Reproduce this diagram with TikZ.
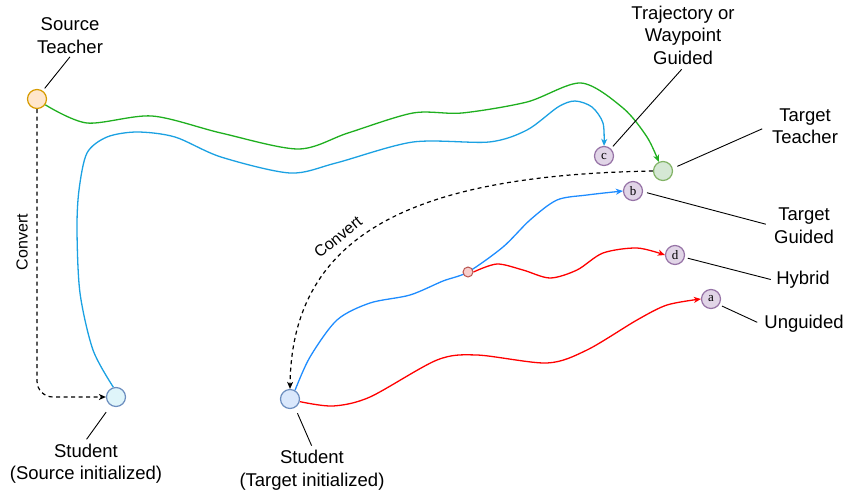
\documentclass[tikz,border=0pt]{standalone}
\usepackage{fontspec}
\setmainfont{Liberation Sans}
\newfontfamily\letterfont{Liberation Serif}
\usetikzlibrary{positioning, arrows, arrows.meta, backgrounds}
\definecolor{srcfill}{HTML}{FFE6CC}
\definecolor{srcdraw}{HTML}{D79B00}
\definecolor{tgtfill}{HTML}{D5E8D4}
\definecolor{tgtdraw}{HTML}{82B366}
\definecolor{stufill}{HTML}{DFF5FA}
\definecolor{stgfill}{HTML}{DAE8FC}
\definecolor{studraw}{HTML}{6C8EBF}
\definecolor{wayfill}{HTML}{E1D5E7}
\definecolor{waydraw}{HTML}{9673A6}
\definecolor{hybfill}{HTML}{F8CECC}
\definecolor{hybdraw}{HTML}{B85450}
\definecolor{pathgreen}{HTML}{1FAF1F}
\definecolor{pathcyan}{HTML}{1BA1E2}
\definecolor{pathblue}{HTML}{1E8CFF}
\definecolor{pathred}{HTML}{FF0000}
\tikzset{
	>={Stealth[length=7pt, width=6pt, inset=2pt]}, % makes the arrow heads bold
	x=1pt, y=-1pt, % one unit per pixel, y grows downwards
	every node/.style={font=\fontsize{18.5}{22.5}\selectfont, align=center}, % label text
	pt/.style={circle, minimum size=19pt, inner sep=0pt, line width=1.2pt}, % the round points
	src/.style={draw=srcdraw, fill=srcfill},
	tgt/.style={draw=tgtdraw, fill=tgtfill},
	stus/.style={draw=studraw, fill=stufill},
	stut/.style={draw=studraw, fill=stgfill},
	way/.style={draw=waydraw, fill=wayfill, font=\letterfont\fontsize{13}{13}\selectfont},
	hyb/.style={circle, minimum size=10pt, inner sep=0pt, line width=1pt, draw=hybdraw, fill=hybfill},
	conv/.style={font=\fontsize{16}{18}\selectfont},
	convline/.style={->, line width=1.2pt, dash pattern=on 4pt off 3.5pt}, % the dashed convert lines
	traj/.style={->, line width=1.3pt}, % the curved trajectories
	leader/.style={line width=0.9pt},
}

\begin{document}
\begin{tikzpicture}
	\useasboundingbox (0,0) rectangle (849,493);
	\node[pt, src] (st) at (37,99) {};
	\node[pt, tgt] (tt) at (663,171) {};
	\node[pt, stus] (ss) at (116,397) {};
	\node[pt, stut] (sg) at (290,399) {};
	\node[pt, way] (c) at (604,156) {c};
	\node[pt, way] (b) at (633,191) {b};
	\node[pt, way] (d) at (675,255) {d};
	\node[pt, way] (a) at (711,299) {a};
	\node[hyb] (h) at (468,272) {};
	\node (stl) at (70,35.5) {Source\\Teacher};
	\node (cl) at (683,35) {Trajectory or\\Waypoint\\Guided};
	\node (ttl) at (805,126) {Target\\Teacher};
	\node (bl) at (804,225.5) {Target\\Guided};
	\node (dl) at (803,280) {Hybrid};
	\node (al) at (804,324) {Unguided};
	\node (ssl) at (86,463.5) {Student\\(Source initialized)};
	\node (sgl) at (312,470) {Student\\(Target initialized)};
	\node[conv, rotate=90] (cv1) at (22,242) {Convert};
	\node[conv, rotate=39] (cv2) at (338,237) {Convert};
	\begin{pgfonlayer}{background}
	% convert arrows
	\draw[convline, rounded corners=16pt] (st.south) |- (ss.west);
	\draw[convline] (tt.west) .. controls (420,175) and (292,230) .. (sg.north);
	% trajectories
	\draw[traj, pathgreen] plot[smooth] coordinates {(st.-35) (87,123) (152,116) (221,133) (298,149) (348,133) (413,113) (462,113) (527,102) (581,83) (623,108) (647,137) (tt.115)};
	\draw[traj, pathcyan] plot[smooth] coordinates {(ss.105) (93,350) (80,293) (77,230) (79,190) (87,153) (107,137) (137,132) (175,137) (221,157) (290,173) (336,163) (413,142) (489,142) (527,130) (558,107) (575,101) (592,107) (603,123) (c.north)};
	\draw[traj, pathblue] plot[smooth] coordinates {(sg.60) (310,357) (337,320) (370,303) (410,295) (443,281) (h.center) (503,247) (530,220) (557,200) (587,195) (b.west)};
	\draw[traj, pathred] plot[smooth] coordinates {(h.east) (497,264) (523,270) (550,278) (577,270) (603,253) (637,248) (d.west)};
	\draw[traj, pathred] plot[smooth] coordinates {(sg.-15) (333,406) (370,397) (437,360) (477,355) (547,363) (587,350) (637,320) (667,305) (a.west)};
	% leaders to the labels
	\draw[leader, shorten <=3pt] (st.55) -- (stl.south);
	\draw[leader, shorten <=3pt, shorten >=2pt] (c.47) -- (cl.south);
	\draw[leader, shorten <=5pt, shorten >=7pt] (tt.15) -- (ttl.west);
	\draw[leader, shorten <=4pt, shorten >=5pt] (b.-4) -- (bl.west);
	\draw[leader, shorten <=3pt, shorten >=2pt] (d.-14) -- (dl.west);
	\draw[leader, shorten <=3pt, shorten >=4pt] (a.-35) -- (al.west);
	\draw[leader, shorten <=8pt, shorten >=1pt] (ss.239) -- (ssl.north);
	\draw[leader, shorten <=6pt, shorten >=1pt] (sg.-60) -- (sgl.north);
	\end{pgfonlayer}
\end{tikzpicture}
\end{document}
